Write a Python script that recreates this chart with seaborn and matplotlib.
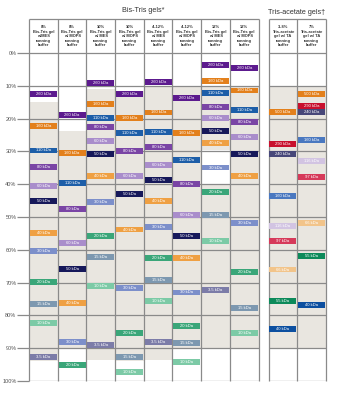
import matplotlib
matplotlib.use("Agg")
import matplotlib.pyplot as plt
import seaborn as sns
import numpy as np

sns.set_style("white")
plt.rcParams['font.family'] = ['Liberation Sans', 'DejaVu Sans']

# ---------------- data ----------------
headers_bis = [
    "8%\nBis-Tris gel\nw/MES\nrunning\nbuffer",
    "8%\nBis-Tris gel\nw/ MOPS\nrunning\nbuffer",
    "10%\nBis-Tris gel\nw/ MES\nrunning\nbuffer",
    "10%\nBis-Tris gel\nw/ MOPS\nrunning\nbuffer",
    "4–12%\nBis-Tris gel\nw/ MES\nrunning\nbuffer",
    "4–12%\nBis-Tris gel\nw/ MOPS\nrunning\nbuffer",
    "12%\nBis-Tris gel\nw/ MES\nrunning\nbuffer",
    "12%\nBis-Tris gel\nw/ MOPS\nrunning\nbuffer",
]
headers_ta = [
    "3–8%\nTris-acetate\ngel w/ TA\nrunning\nbuffer",
    "7%\nTris-acetate\ngel w/ TA\nrunning\nbuffer",
]

bis_markers = ["260", "160", "110", "80", "60", "50", "40", "30", "20", "15", "10", "3.5"]
bis_colors = ["#5c1a8e", "#e3801c", "#1d5ea8", "#7a45a5", "#a98dcb", "#16185a",
              "#efa043", "#7c8fca", "#3aa679", "#7d98b0", "#7ccaa6", "#7c7ca8"]
ta_markers = ["500", "290", "240", "160", "116", "97", "66", "55", "40"]
ta_colors = ["#e3801c", "#c8102e", "#474779", "#4a78c0", "#d2c4e2", "#d63a5a",
             "#f2c48a", "#0c8a5a", "#0c4fa0"]

# migration (% of gel length) of each marker, per gel
mes8 = [12.5, 22.3, 29.7, 34.7, 40.4, 45.2, 54.8, 60.3, 69.7, 76.4, 82.4, 92.7]
mops8 = [18.8, 30.6, 39.6, 47.5, 57.9, 65.8, 76.1, 88.1, 95.0]
mes10 = [9.1, 15.6, 19.7, 22.6, 26.7, 30.8, 37.6, 45.3, 55.7, 62.2, 71.1, 89.1]
mops10 = [12.4, 19.9, 24.3, 29.9, 37.6, 43.0, 53.8, 71.6, 85.3, 92.7, 97.3]
mes412 = [8.9, 18.1, 24.0, 28.6, 34.1, 38.6, 45.0, 53.1, 62.5, 69.1, 75.6, 88.1]
mops412 = [13.7, 24.3, 32.5, 39.8, 49.5, 55.8, 62.5, 73.0, 83.2, 88.3, 94.1]
mes12 = [3.6, 8.5, 12.1, 16.4, 19.9, 23.7, 27.3, 34.9, 42.4, 49.5, 57.2, 72.2]
mops12 = [4.6, 11.4, 17.3, 21.0, 25.7, 30.9, 37.6, 51.9, 66.8, 77.7, 85.3]
ta38 = [17.9, 27.6, 30.9, 43.6, 52.8, 57.2, 66.0, 75.6, 84.2]
ta7 = [12.4, 16.0, 17.9, 26.4, 32.9, 37.8, 51.7, 62.0, 76.8]

# gel (grey) segments: lane index, % start, % end
gel_lane = [0, 1, 2, 3, 4, 5, 6, 6, 7, 8, 9]
gel_start = [15.0, 23.8, 11.0, 11.5, 10.0, 10.0, 10.0, 39.8, 10.0, 10.0, 10.0]
gel_end = [94.0, 90.0, 93.5, 94.0, 93.5, 90.0, 29.6, 90.0, 90.0, 90.0, 90.0]

yticks = [0, 10, 20, 30, 40, 50, 60, 70, 80, 90, 100]

# ---------------- figure ----------------
W, H = 338, 394
fig = plt.figure(figsize=(W / 100, H / 100), dpi=100)
ax = fig.add_axes([29 / W, 13 / H, 297 / W, 362 / H])

GAP = 0.35
head_top = -10.4
lanes_x = [i + 0.5 for i in range(8)] + [8 + GAP + 0.5, 8 + GAP + 1.5]
lanes_data = [mes8, mops8, mes10, mops10, mes412, mops412, mes12, mops12, ta38, ta7]

grey = "#e9e6e0"
line_c = "#8a8a8a"

# gel backgrounds
ax.bar([lanes_x[i] for i in gel_lane], np.array(gel_end) - np.array(gel_start),
       bottom=gel_start, width=1.0, color=grey, linewidth=0, zorder=1)

# bands
band_h = 1.8
for li, (xc, pos) in enumerate(zip(lanes_x, lanes_data)):
    if li < 8:
        names, cols = bis_markers, bis_colors
    else:
        names, cols = ta_markers, ta_colors
    n = len(pos)
    ax.bar([xc] * n, [band_h] * n, bottom=np.array(pos) - band_h / 2,
           width=0.94, color=cols[:n], linewidth=0, zorder=3)
    for name, p in zip(names, pos):
        ax.text(xc, p, f"{name} kDa", ha="center", va="center", color="white",
                fontsize=3.0, zorder=4)

# grid lines
ax.hlines(yticks, 0, 8, color=line_c, lw=0.9, zorder=2)
ax.hlines(yticks, 8 + GAP, 10 + GAP, color=line_c, lw=0.9, zorder=2)
ax.hlines([head_top], 0, 8, color=line_c, lw=0.9, zorder=2, clip_on=False)
ax.hlines([head_top], 8 + GAP, 10 + GAP, color=line_c, lw=0.9, zorder=2, clip_on=False)
ax.vlines(np.arange(0, 9), head_top, 100, color=line_c, lw=0.9, zorder=2, clip_on=False)
ax.vlines([8 + GAP, 9 + GAP, 10 + GAP], head_top, 100, color=line_c, lw=0.9,
          zorder=2, clip_on=False)

# headers
for xc, txt in zip(lanes_x, headers_bis + headers_ta):
    ax.text(xc, head_top / 2, txt, ha="center", va="center", fontsize=2.9,
            color="#333333", linespacing=1.15, fontweight="bold")

ax.set_xlim(0, 10 + GAP)
ax.set_ylim(100, head_top)
ax.set_xticks([])
ax.set_yticks(yticks)
ax.set_yticklabels([f"{t}%" for t in yticks], fontsize=4, color="#555555")
ax.tick_params(axis="y", length=8.5, width=0.9, color=line_c, pad=0.5, left=True)
sns.despine(ax=ax, left=True, bottom=True)

fig.text(143 / W, 1 - 10 / H, "Bis-Tris gels*", ha="center", va="center",
         fontsize=5.2, color="#333333")
fig.text(297 / W, 1 - 13 / H, "Tris-acetate gels\u2020", ha="center", va="center",
         fontsize=5.2, color="#333333")

fig.savefig("out.png", dpi=100)
